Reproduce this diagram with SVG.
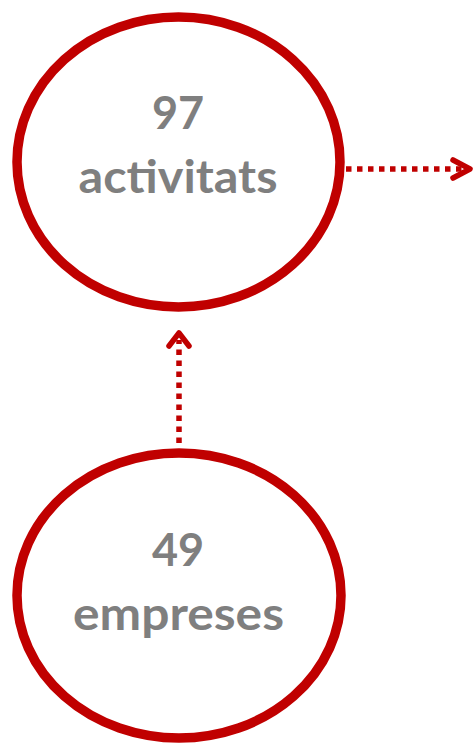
<svg xmlns="http://www.w3.org/2000/svg" width="474" height="744" viewBox="0 0 474 744">
<style>
.node{fill:#fff;stroke:#C00000;stroke-width:9.5}
.lbl{font-family:"Lato","Open Sans","DejaVu Sans",sans-serif;font-weight:bold;fill:#7F7F7F;text-anchor:middle}
.dot{fill:none;stroke:#C00000;stroke-width:5.5;stroke-dasharray:5.5 5.5}
.head{fill:none;stroke:#C00000;stroke-width:5.5;stroke-linecap:round;stroke-linejoin:round}
</style>
<rect width="474" height="744" fill="#fff"/>
<g id="connectors">
<line class="dot" x1="346" y1="169" x2="466" y2="169"/>
<polyline class="head" points="453,160 470,169 453,178"/>
<line class="dot" x1="179" y1="443" x2="179" y2="340"/>
<polyline class="head" points="169,346 179,333 189,346"/>
</g>
<g id="node-activitats">
<ellipse class="node" cx="178.5" cy="162" rx="161.5" ry="145"/>
<text class="lbl" x="178" y="129" font-size="45">97</text>
<text class="lbl" x="178" y="193" font-size="45" textLength="199" lengthAdjust="spacingAndGlyphs">activitats</text>
</g>
<g id="node-empreses">
<ellipse class="node" cx="179" cy="595.5" rx="162" ry="142.5"/>
<text class="lbl" x="178" y="566" font-size="45">49</text>
<text class="lbl" x="178.5" y="630" font-size="45" textLength="211" lengthAdjust="spacingAndGlyphs">empreses</text>
</g>
</svg>
